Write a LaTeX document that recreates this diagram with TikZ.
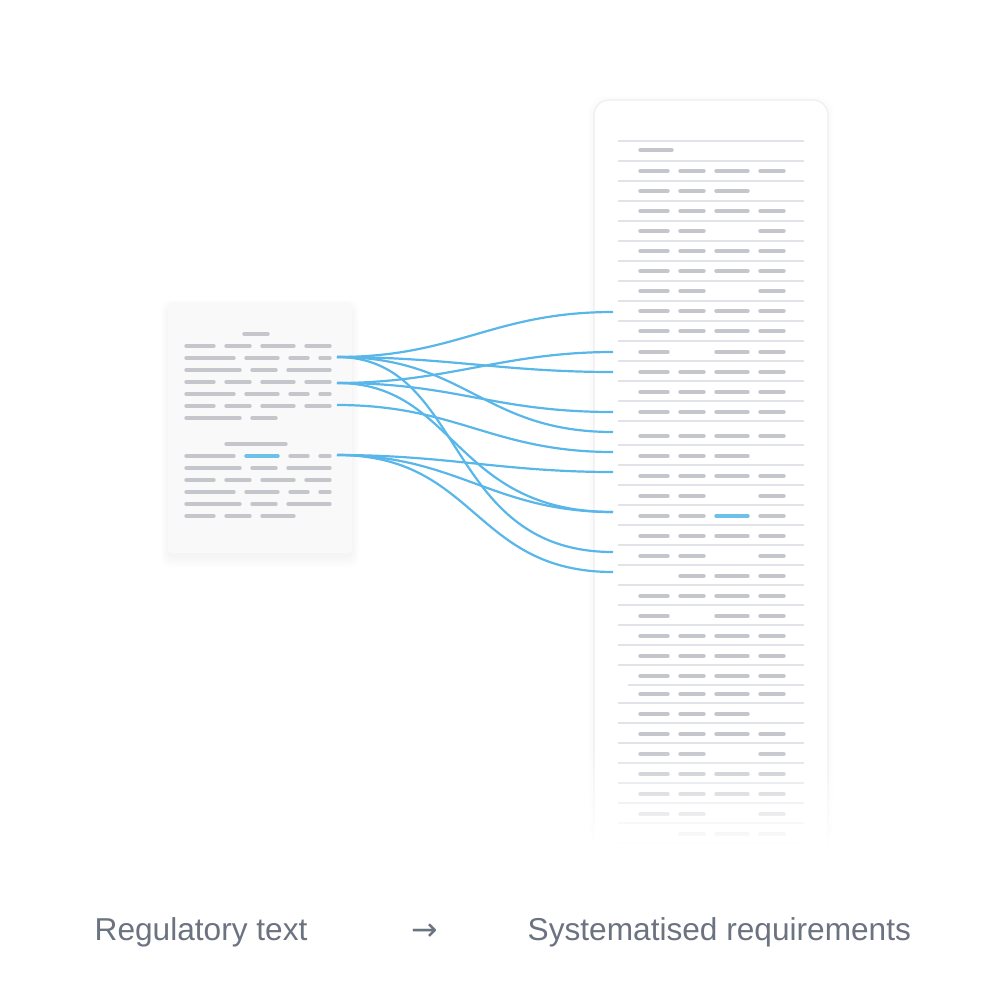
\documentclass[tikz,border=0pt]{standalone}
\usepackage{fontspec}
\setmainfont{Liberation Sans}
\newfontfamily\arrowfont{DejaVu Sans}
\usetikzlibrary{fadings}

\definecolor{cardgray}{RGB}{249,249,250}
\definecolor{bargray}{RGB}{196,198,204}
\definecolor{rulegray}{RGB}{226,227,232}
\definecolor{edgegray}{RGB}{238,238,240}
\definecolor{linkblue}{RGB}{88,182,232}
\definecolor{hiblue}{RGB}{108,192,234}
\definecolor{capgray}{RGB}{107,114,128}

\tikzfading[name=fadedown, top color=transparent!100, bottom color=transparent!0]

\begin{document}
\begin{tikzpicture}[x=0.1mm, y=-0.1mm,
  txtbar/.style={line width=0.34mm, line cap=round, bargray},
  hibar/.style={txtbar, hiblue},
  rowrule/.style={line width=0.15mm, rulegray},
  link/.style={line width=0.22mm, linkblue},
  capt/.style={font=\fontsize{9}{11}\selectfont, text=capgray, inner sep=0pt}
]
\useasboundingbox (0,0) rectangle (1000,1000);

% left document card
\foreach \i in {1,...,10}
  \fill[black, opacity=0.005, rounded corners=0.8mm] ({168-0.7*\i},{310-\i}) rectangle ({352+0.7*\i},{556+1.2*\i});
\node[fill=cardgray, rounded corners=0.4mm, minimum width=18.4mm, minimum height=25.1mm, inner sep=0pt] (doc) at (260,427.5) {};

% text lines of the document
\draw[txtbar] (244,334) -- (268,334);
\draw[txtbar] (226,444) -- (286,444);
\foreach \y in {346,382,406,480} {
  \draw[txtbar] (186,\y) -- (214,\y);
  \draw[txtbar] (226,\y) -- (250,\y);
  \draw[txtbar] (262,\y) -- (294,\y);
  \draw[txtbar] (306,\y) -- (330,\y);
}
\foreach \y in {358,394,456,492} {
  \draw[txtbar] (186,\y) -- (234,\y);
  \draw[txtbar] (290,\y) -- (308,\y);
  \draw[txtbar] (320,\y) -- (330,\y);
}
\draw[txtbar] (246,358) -- (278,358);
\draw[txtbar] (246,394) -- (278,394);
\draw[hibar] (246,456) -- (278,456);
\draw[txtbar] (246,492) -- (278,492);
\foreach \y in {370,468,504} {
  \draw[txtbar] (186,\y) -- (240,\y);
  \draw[txtbar] (252,\y) -- (276,\y);
  \draw[txtbar] (288,\y) -- (330,\y);
}
\draw[txtbar] (186,418) -- (240,418);
\draw[txtbar] (252,418) -- (276,418);
\draw[txtbar] (186,516) -- (214,516);
\draw[txtbar] (226,516) -- (250,516);
\draw[txtbar] (262,516) -- (294,516);

% right table card
\foreach \i in {1,...,6}
  \fill[black, opacity=0.005, rounded corners=1.6mm] ({594-\i},{102-\i}) rectangle ({828+\i},{862+\i});
\node[draw=edgegray, line width=0.12mm, fill=white, rounded corners=1.5mm, minimum width=23.4mm, minimum height=76mm, inner sep=0pt] (table) at (711,480) {};

% row rules
\foreach \y in {141,161,...,421} \draw[rowrule] (618,\y) -- (804,\y);
\foreach \y in {445,465,...,665} \draw[rowrule] (618,\y) -- (804,\y);
\draw[rowrule] (628,685) -- (804,685);
\foreach \y in {703,723,...,843} \draw[rowrule] (618,\y) -- (804,\y);

% table cells (0 = empty, 1 = grey, 2 = highlighted)
\draw[txtbar] (640,150) -- (672,150);
\foreach \y/\a/\b/\c/\d in {171/1/1/1/1, 191/1/1/1/0, 211/1/1/1/1, 231/1/1/0/1,
    251/1/1/1/1, 271/1/1/1/1, 291/1/1/0/1, 311/1/1/1/1, 331/1/1/1/1,
    352/1/0/1/1, 372/1/1/1/1, 392/1/1/1/1, 412/1/1/1/1, 436/1/1/1/1,
    456/1/1/1/0, 476/1/1/1/1, 496/1/1/0/1, 516/1/1/2/1, 536/1/1/1/1,
    556/1/1/0/1, 576/0/1/1/1, 596/1/1/1/1, 616/1/0/1/1, 636/1/1/1/1,
    656/1/1/1/1, 676/1/1/1/1, 694/1/1/1/1, 714/1/1/1/0, 734/1/1/1/1,
    754/1/1/0/1, 774/1/1/1/1, 794/1/1/1/1, 814/1/1/0/1, 834/0/1/1/1} {
  \ifnum\a=1 \draw[txtbar] (640,\y) -- (668,\y); \fi
  \ifnum\b=1 \draw[txtbar] (680,\y) -- (704,\y); \fi
  \ifnum\c=1 \draw[txtbar] (716,\y) -- (748,\y); \fi
  \ifnum\c=2 \draw[hibar] (716,\y) -- (748,\y); \fi
  \ifnum\d=1 \draw[txtbar] (760,\y) -- (784,\y); \fi
}

% fade out the bottom of the table
\fill[white, path fading=fadedown] (570,745) rectangle (850,846);
\fill[white] (570,845) rectangle (850,880);

% link ends
\coordinate (sA) at (337,357);
\coordinate (sB) at (337,383);
\coordinate (sC) at (337,405);
\coordinate (sD) at (337,455);
\coordinate (t1) at (613,312);
\coordinate (t2) at (613,352);
\coordinate (t3) at (613,372);
\coordinate (t4) at (613,412);
\coordinate (t5) at (613,432);
\coordinate (t6) at (613,452);
\coordinate (t7) at (613,472);
\coordinate (t8) at (613,512);
\coordinate (t9) at (613,552);
\coordinate (t10) at (613,572);

\draw[link] (sA) .. controls +(120,0) and +(-120,0) .. (t1);
\draw[link] (sA) .. controls +(110,0) and +(-110,0) .. (t3);
\draw[link] (sB) .. controls +(110,0) and +(-110,0) .. (t2);
\draw[link] (sA) .. controls +(130,0) and +(-130,0) .. (t5);
\draw[link] (sB) .. controls +(120,0) and +(-120,0) .. (t4);
\draw[link] (sC) .. controls +(120,0) and +(-120,0) .. (t6);
\draw[link] (sD) .. controls +(110,0) and +(-110,0) .. (t7);
\draw[link] (sD) .. controls +(120,0) and +(-120,0) .. (t8);
\draw[link] (sD) .. controls +(140,0) and +(-140,0) .. (t10);
\draw[link] (sA) .. controls +(130,0) and +(-170,0) .. (t9);
\draw[link] (sB) .. controls +(120,0) and +(-160,0) .. (t8);

% captions
\node[capt, anchor=base west] (regtext) at (94,940) {Regulatory text};
\node[capt, anchor=base] (arrowsym) at (425,940) {\arrowfont →};
\node[capt, anchor=base west] (systext) at (527,940) {Systematised requirements};
\end{tikzpicture}
\end{document}
